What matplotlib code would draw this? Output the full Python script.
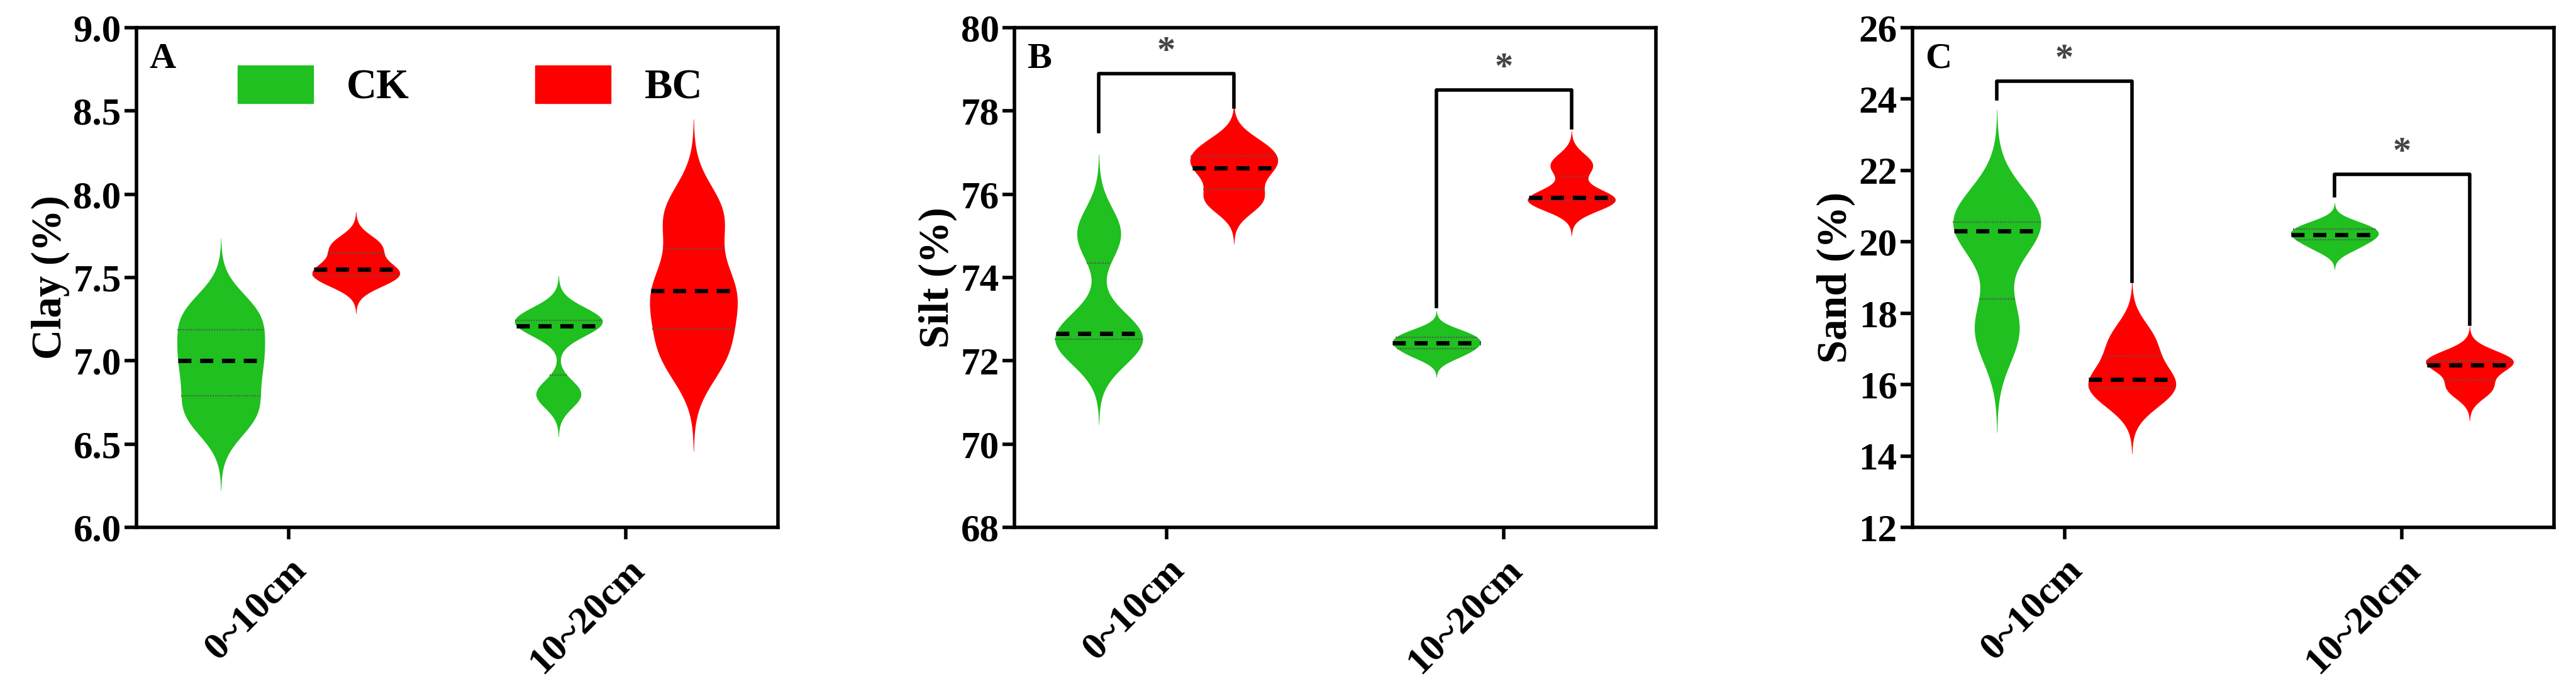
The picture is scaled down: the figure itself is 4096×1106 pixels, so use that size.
import numpy as np
import matplotlib
matplotlib.use("Agg")
import matplotlib.pyplot as plt

plt.rcParams['font.family'] = ['Liberation Serif', 'DejaVu Serif']
plt.rcParams['font.weight'] = 'bold'

depths = ["0~10cm", "10~20cm"]
treatments = ["CK", "BC"]
colors = {"CK": "#1fc01f", "BC": "#ff0000"}

# samples per panel: [CK 0-10, BC 0-10, CK 10-20, BC 10-20]
clay = [[6.65, 6.7, 6.88, 7.0, 7.1, 7.27, 7.3],
        [7.48, 7.5, 7.55, 7.55, 7.68, 7.7],
        [6.78, 6.82, 7.2, 7.22, 7.25, 7.27],
        [7.0, 7.08, 7.3, 7.42, 7.5, 7.85, 7.9]]
silt = [[72.3, 72.5, 72.6, 72.7, 74.9, 75.2],
        [75.8, 75.95, 76.6, 76.65, 77.0, 77.2],
        [72.1, 72.25, 72.4, 72.45, 72.6, 72.7],
        [75.75, 75.85, 75.9, 75.95, 76.6, 76.8]]
sand = [[17.3, 17.8, 20.2, 20.4, 20.6, 21.0],
        [15.6, 15.85, 16.1, 16.2, 17.0, 17.4],
        [19.8, 20.0, 20.2, 20.2, 20.4, 20.5],
        [15.8, 16.0, 16.5, 16.6, 16.7, 16.8]]
bandwidths = {"A": [0.14, 0.065, 0.08, 0.18],
              "B": [0.6, 0.33, 0.17, 0.25],
              "C": [0.9, 0.52, 0.2, 0.28]}
ylabels = {"A": "Clay (%)", "B": "Silt (%)", "C": "Sand (%)"}
ylims = {"A": (6.0, 9.0, 0.5), "B": (68, 80, 2), "C": (12, 26, 2)}
# significance brackets: (depth index, bar height, left end, right end)
brackets = {"A": [],
            "B": [(0, 78.9, 77.5, 78.1), (1, 78.5, 73.3, 77.6)],
            "C": [(0, 24.5, 24.0, 18.9), (1, 21.9, 21.3, 17.7)]}

offset = 0.2
maxw = 0.13


def draw_violin(ax, data, x, bw, color):
    d = np.asarray(data)
    ys = np.linspace(d.min() - 4 * bw, d.max() + 4 * bw, 500)
    dens = np.exp(-0.5 * ((ys[:, None] - d[None, :]) / bw) ** 2).sum(axis=1)
    cut = dens > dens.max() * 0.004
    ys, dens = ys[cut], dens[cut]
    w = dens / dens.max() * maxw
    ax.fill_betweenx(ys, x - w, x + w, color=color, lw=0)
    q1, med, q3 = np.percentile(d, [25, 50, 75])
    for q, ls, lw, c in [(q1, (0, (1, 1)), 1.5, '#555555'), (q3, (0, (1, 1)), 1.5, '#555555'),
                         (med, (0, (3, 2)), 5, 'black')]:
        hw = np.interp(q, ys, w)
        ax.plot([x - hw, x + hw], [q, q], color=c, ls=ls, lw=lw)


fig = plt.figure(figsize=(40.96, 11.06), dpi=100)
lefts = [217, 1613, 3041]
for panel, left, data in zip("ABC", lefts, [clay, silt, sand]):
    ax = fig.add_axes([left / 4096, 1 - 838 / 1106, 1020 / 4096, 794 / 1106])
    order = [(0, "CK"), (0, "BC"), (1, "CK"), (1, "BC")]
    for (di, tr), vals, bw in zip(order, data, bandwidths[panel]):
        x = di + (-offset if tr == "CK" else offset)
        draw_violin(ax, vals, x, bw, colors[tr])
    for di, h, l, r in brackets[panel]:
        ax.plot([di - offset, di - offset, di + offset, di + offset], [l, h, h, r],
                color='black', lw=4)
        ax.text(di, h + (ylims[panel][1] - ylims[panel][0]) * 0.01, "*", ha='center',
                va='bottom', fontsize=42, color='#444444')
    lo, hi, step = ylims[panel]
    ax.set_ylim(lo, hi)
    ax.set_yticks(np.arange(lo, hi + step / 2, step))
    if panel == "A":
        ax.set_yticklabels([f"{v:.1f}" for v in np.arange(lo, hi + step / 2, step)])
    ax.set_xlim(-0.45, 1.45)
    ax.set_xticks([0, 1])
    ax.set_xticklabels(depths, rotation=45, ha='right', rotation_mode='anchor')
    ax.tick_params(axis='both', labelsize=44, width=4, length=14)
    ax.tick_params(axis='x', pad=14)
    for s in ax.spines.values():
        s.set_linewidth(4)
    ax.set_ylabel(ylabels[panel], fontsize=48, fontweight='bold')
    ax.text(0.02, 0.97, panel, transform=ax.transAxes, fontsize=42,
            fontweight='bold', va='top')
    if panel == "A":
        handles = [plt.Rectangle((0, 0), 1, 1, color=colors[t]) for t in treatments]
        ax.legend(handles, treatments, loc='upper center', ncol=2, frameon=False,
                  fontsize=48, bbox_to_anchor=(0.52, 1.0), handlelength=1.8,
                  handleheight=1.0, columnspacing=3)

fig.savefig("out.png", dpi=100)
